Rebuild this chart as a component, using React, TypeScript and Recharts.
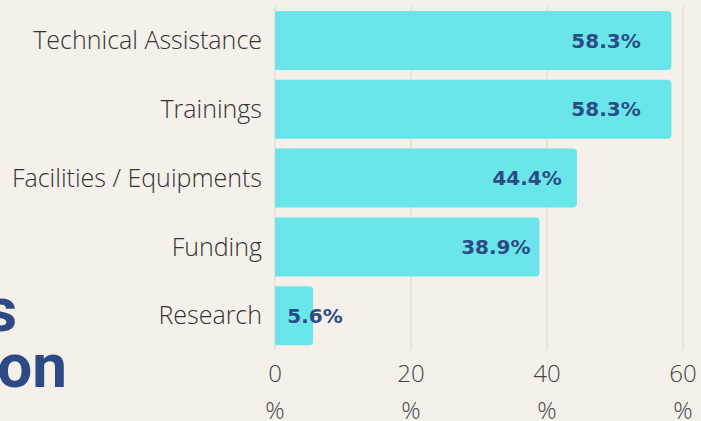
import { BarChart, Bar, XAxis, YAxis, CartesianGrid, LabelList } from 'recharts'

const categories = ['Technical Assistance', 'Trainings', 'Facilities / Equipments', 'Funding', 'Research']
const shares = [58.3, 58.3, 44.4, 38.9, 5.6]
const xTicks = [0, 20, 40, 60]

const data = categories.map((name, i) => ({ name, value: shares[i] }))

const BG = '#f5f1ea'
const BAR = '#6ae6ea'
const NAVY = '#2d4a84'

interface TickProps {
  x?: number
  y?: number
  payload?: { value: number }
}

// axis ticks are drawn as "20" with the % sign on a second line
function PercentTick({ x = 0, y = 0, payload }: TickProps) {
  return (
    <g>
      <text x={x} y={y + 24} textAnchor="middle" fill="#444" fontSize={24} fontFamily="'Open Sans', sans-serif" fontWeight={300}>
        {payload?.value}
      </text>
      <text x={x} y={y + 61} textAnchor="middle" fill="#444" fontSize={24} fontFamily="'Open Sans', sans-serif" fontWeight={300}>
        %
      </text>
    </g>
  )
}

interface LabelProps {
  x?: number | string
  y?: number | string
  width?: number | string
  height?: number | string
  value?: number | string
}

function ValueLabel(props: LabelProps) {
  const x = Number(props.x)
  const y = Number(props.y)
  const w = Number(props.width)
  const h = Number(props.height)
  // roughly centred near the bar end, pushed right on short bars
  const cx = Math.max(x + w * 0.835, x + 12 + 28)
  return (
    <text
      x={cx}
      y={y + h / 2}
      textAnchor="middle"
      dominantBaseline="central"
      fill={NAVY}
      fontSize={20}
      fontWeight={700}
      fontFamily="'DejaVu Sans', sans-serif"
    >
      {`${props.value}%`}
    </text>
  )
}

const titleStyle = {
  position: 'absolute' as const,
  fontFamily: 'Roboto, sans-serif',
  fontWeight: 700,
  fontSize: 62,
  lineHeight: '56px',
  color: NAVY,
  textAlign: 'right' as const,
  whiteSpace: 'nowrap' as const,
}

export default function App() {
  return (
    <div style={{ position: 'relative', width: 701, height: 421, background: BG, overflow: 'hidden' }}>
      <style>{`body{margin:0;background:${BG}}`}</style>
      <div style={{ ...titleStyle, right: 701 - 17, top: 282 }}>s</div>
      <div style={{ ...titleStyle, right: 701 - 67, top: 338 }}>on</div>
      <div style={{ position: 'absolute', left: 0, top: 0 }}>
        <BarChart
          width={701}
          height={421}
          data={data}
          layout="vertical"
          margin={{ top: 6, right: 18, left: 0, bottom: 0 }}
        >
          <CartesianGrid horizontal={false} stroke="#e4dfd6" strokeWidth={1.5} />
          <XAxis
            type="number"
            domain={[0, 60]}
            ticks={xTicks}
            interval={0}
            axisLine={false}
            tickLine={false}
            height={71}
            tick={<PercentTick />}
          />
          <YAxis
            type="category"
            dataKey="name"
            width={275}
            axisLine={false}
            tickLine={false}
            tickSize={0}
            tickMargin={13}
            tick={{ fill: '#333', fontSize: 25, fontFamily: "'Open Sans', sans-serif", fontWeight: 300 }}
          />
          <Bar dataKey="value" fill={BAR} barSize={59} radius={[0, 4, 4, 0]} isAnimationActive={false}>
            <LabelList dataKey="value" content={<ValueLabel />} />
          </Bar>
        </BarChart>
      </div>
    </div>
  )
}
